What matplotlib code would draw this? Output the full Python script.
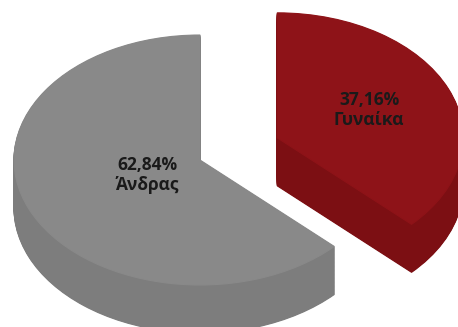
import matplotlib
matplotlib.use("Agg")
import matplotlib.pyplot as plt

# data
labels = ["Γυναίκα", "Άνδρας"]
shares = [37.16, 62.84]
pct_text = ["37,16%", "62,84%"]

top_colors = ["#8e1318", "#898989"]
side_colors = ["#7c0f13", "#7d7d7d"]

plt.rcParams["font.family"] = ["Open Sans", "DejaVu Sans"]

W, H = 458, 327
k = 1.488          # vertical squash of the pie (ellipse a/b)
radius = 186
cx, cy = 200, (H - 160) * k
depth = 48 * k
explode = [84, 0]

fig = plt.figure(figsize=(W / 100, H / 100), dpi=100)
ax = fig.add_axes([0, 0, 1, 1])

n_layers = 60
for i in range(n_layers + 1):
    dy = depth * (1 - i / n_layers)
    cols = top_colors if i == n_layers else side_colors
    wedges, _ = ax.pie(shares, colors=cols, startangle=90, counterclock=False,
                       radius=radius, center=(cx, cy - dy), explode=explode,
                       frame=True, wedgeprops={"linewidth": 0.8})
    for w in wedges:
        w.set_edgecolor(w.get_facecolor())

ax.set_aspect("auto")
ax.set_xlim(0, W)
ax.set_ylim(0, H * k)
ax.axis("off")

# labels (pixel positions from the top-left corner)
label_pos = [(369, 110), (147, 175)]
for (px, py), pct, lab in zip(label_pos, pct_text, labels):
    ax.text(px, (H - py) * k, f"{pct}\n{lab}", ha="center", va="center",
            fontsize=12.5, fontweight="bold", color="#1a1a1a", linespacing=1.15)

fig.savefig("out.png", dpi=100)
